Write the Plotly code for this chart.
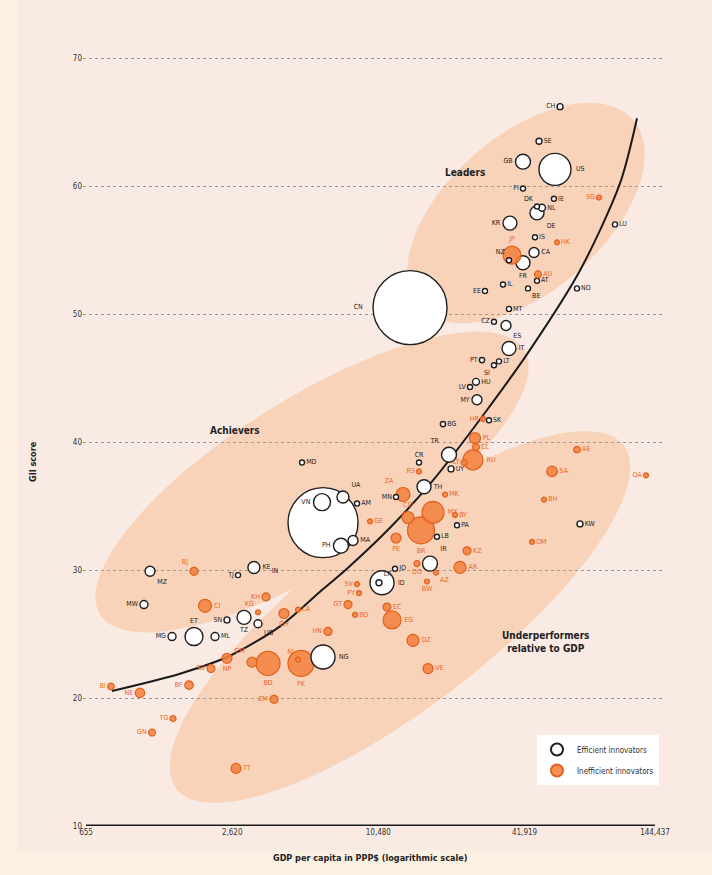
import math
import plotly.graph_objects as go

# ---------------- data ----------------
eff_codes = ["CH","SE","GB","US","FI","IE","DK","NL","DE","KR","LU","IS","NZ","FR","CA","AT","IL","BE","EE","NO",
             "MT","CZ","ES","CN","IT","PT","SI","LT","HU","LV","MY","BG","SK","MD","UA","VN","AM","IN","PH","MA",
             "KE","TJ","MZ","MW","SN","TZ","UG","ET","MG","ML","NG","KW","TH","TR","CR","UY","MN","LB","PA","IR",
             "ID","LK","JO"]
eff_gdp = [58700,48100,41300,55950,41300,55400,47170,49460,47170,36510,98830,46280,36170,41300,45850,47170,34170,43310,28810,68920,
           36170,31370,35150,14150,36170,28000,31370,32900,26450,24990,26700,19340,29920,5080,7490,6140,8560,6200,7350,8240,
           3220,2770,1202,1135,2494,2931,3346,1824,1481,2226,6200,70910,16160,20480,15410,20870,12390,18270,22090,17100,
           10850,10540,12270]
eff_gii = [66.2,63.5,61.9,61.3,59.8,59.0,58.4,58.3,57.9,57.1,57.0,56.0,54.2,54.0,54.8,52.6,52.3,52.0,51.8,52.0,
           50.4,49.4,49.1,50.5,47.3,46.4,46.0,46.3,44.7,44.3,43.3,41.4,41.7,38.4,35.7,35.3,35.2,33.7,31.9,32.3,
           30.2,29.6,29.9,27.3,26.1,26.3,25.8,24.8,24.8,24.8,23.2,33.6,36.5,39.0,38.4,37.9,35.7,32.6,33.5,30.5,
           29.0,29.0,30.1]
eff_pop = [9,9,56,256,4,4,6,12,49,49,2,2,4,49,25,4,4,6,1,4,
           1,4,25,1369,49,7,1,1,12,1,25,7,2,4,36,72,2,1225,56,25,
           36,4,25,16,9,49,16,81,16,16,144,9,49,56,2,9,2,6,2,56,
           144,9,4]

ineff_codes = ["SG","HK","JP","AU","HR","AE","SA","BH","OM","QA","RU","PL","CL","LT","ZA","MK","MX","CO","BR","BY",
               "PE","KZ","AR","DO","AZ","BW","PY","SV","EC","EG","DZ","VE","GT","HN","PK","BD","CM","NP","SD","BF",
               "BI","NE","ZM","TG","GN","TT","BJ","CI","KH","KG","GH","LA","GE","BO","NI","RS"]
ineff_gdp = [84900,57020,37210,47620,28270,68920,54380,50410,44990,132600,25710,26200,26450,23610,13240,19720,17590,13880,15700,21680,
             12390,24290,22730,15120,18100,16620,8720,8560,11370,11930,14550,16780,7860,6500,5030,3680,3160,2494,2143,1740,
             830,1093,3895,1495,1225,2716,1824,2025,3610,3346,4280,4890,9681,8400,4890,15410]
ineff_gii = [59.1,55.6,54.6,53.1,41.8,39.4,37.7,35.5,32.2,37.4,38.6,40.3,39.6,38.4,35.9,35.9,34.5,34.1,33.1,34.3,
             32.5,31.5,30.2,30.5,29.8,29.1,28.2,28.9,27.1,26.1,24.5,22.3,27.3,25.2,22.7,22.7,22.8,23.1,22.3,21.0,
             20.9,20.4,19.9,18.4,17.3,14.5,29.9,27.2,27.9,26.7,26.6,26.9,33.8,26.5,23.0,37.7]
ineff_pop = [4,6,81,12,2,11,28,2,2,2,100,30,12,9,49,2,121,36,182,4,
             25,16,36,9,6,2,4,2,16,81,36,25,16,16,169,144,25,25,16,18,
             11,22,16,9,12,25,16,42,16,4,25,4,4,2,6,2]

x_tick_values = [655, 2620, 10480, 41919, 144437]
x_tick_labels = ["655", "2,620", "10,480", "41,919", "144,437"]
y_tick_values = [10, 20, 30, 40, 50, 60, 70]

# trend curve
curve_gdp = [838, 1597, 2566, 4123, 6025, 7780, 11702, 17590, 29360, 44138, 70913, 103622, 121800]
curve_gii = [20.55, 21.9, 23.3, 25.6, 28.3, 30.1, 33.3, 37.0, 42.5, 47.2, 53.4, 60.2, 65.3]

# label placement (style)
eff_pos = ["middle left","middle right","middle left","middle right","middle left","middle right","top left","middle right",
           "bottom right","middle left","middle right","middle right","top left","bottom center","middle right","middle right",
           "middle right","bottom right","middle left","middle right","middle right","middle left","bottom right","middle left",
           "middle right","middle left","bottom left","middle right","middle right","middle left","middle left","middle right",
           "middle right","middle right","top right","middle left","middle right","bottom left","middle left","middle right",
           "middle right","middle left","bottom right","middle left","middle left","bottom center","bottom right","top center",
           "middle left","middle right","middle right","middle right","middle right","top left","top center","middle right",
           "middle left","middle right","middle right","top right","middle right","top right","middle right"]
ineff_pos = ["middle left","middle right","top center","middle right","middle left","middle right","middle right","middle right",
             "middle right","middle left","middle right","middle right","middle right","middle left","top left","middle right",
             "middle right","top center","bottom center","middle right","bottom center","middle right","middle right","bottom center",
             "bottom right","bottom center","middle left","middle left","middle right","middle right","middle right","middle right",
             "middle left","middle left","bottom center","bottom center","top left","bottom center","middle left","middle left",
             "middle left","middle left","middle left","middle left","middle left","middle right","top left","middle right",
             "middle left","top left","bottom center","middle right","middle right","middle right","top left","middle left"]

# ---------------- layout helpers (pixel geometry of the page) ----------------
W, H = 712, 875
L, R, T, B = 83, 662, 20, 826
PXLOG = 242.8          # pixels per decade on the x axis
xr = [math.log10(655) - 3 / PXLOG, math.log10(144437) + 7 / PXLOG]
yr = [10, 10 + (B - T) / 12.8]


def pp(x, y):
    return (x - L) / (R - L), (B - y) / (B - T)


def ellipse_path(cx, cy, a, b, ang, n=90):
    t = math.radians(ang)
    pts = []
    for i in range(n):
        p = 2 * math.pi * i / n
        ex, ey = a * math.cos(p), b * math.sin(p)
        x = cx + ex * math.cos(t) - ey * math.sin(t)
        y = cy - (ex * math.sin(t) + ey * math.cos(t))
        px, py = pp(x, y)
        pts.append(f"{px:.4f},{py:.4f}")
    return "M" + " L".join(pts) + " Z"


FONT = "Liberation Sans Narrow, DejaVu Sans Condensed, Arial Narrow, sans-serif"
ORANGE_TXT = "#EC6424"
ELL = "#F8D3BA"
BG = "#F9EBE4"
STRIP = "#FBF1E3"

STYLE = {
    "eff": dict(name="Efficient innovators", txt="#222222", fill="white", edge="#1e1e1e", lw=1.4, rank=1),
    "ineff": dict(name="Inefficient innovators", txt=ORANGE_TXT, fill="rgba(244,130,64,0.88)", edge="#E2601C", lw=1.2, rank=2),
}
SERIES = {
    "eff": (eff_codes, eff_gdp, eff_gii, eff_pop, eff_pos),
    "ineff": (ineff_codes, ineff_gdp, ineff_gii, ineff_pop, ineff_pos),
}

fig = go.Figure()

# trend curve
fig.add_trace(go.Scatter(x=curve_gdp, y=curve_gii, mode="lines",
                         line=dict(color="#1a1a1a", width=2, shape="spline", smoothing=0.8),
                         hoverinfo="skip", showlegend=False))

# x axis bar
fig.add_trace(go.Scatter(x=[x_tick_values[0], x_tick_values[-1]], y=[10, 10], mode="lines",
                         line=dict(color="#1a1a1a", width=3), hoverinfo="skip", showlegend=False))

# bubbles drawn in size tiers (large first) so that small bubbles stay visible on top
tiers = [(150, 1e9), (40, 150), (0, 40)]
for ti, (lo, hi) in enumerate(tiers):
    for key in ("eff", "ineff"):
        codes, gdp, gii, pop, pos = SERIES[key]
        st = STYLE[key]
        idx = sorted([i for i in range(len(codes)) if lo <= pop[i] < hi], key=lambda i: -pop[i])
        fig.add_trace(go.Scatter(
            x=[gdp[i] for i in idx], y=[gii[i] for i in idx], mode="markers+text",
            text=[codes[i] for i in idx], textposition=[pos[i] for i in idx],
            textfont=dict(family=FONT, size=7, color=st["txt"]),
            marker=dict(size=[2 * math.sqrt(pop[i]) for i in idx], sizemode="diameter", sizemin=2.5, opacity=1,
                        color=st["fill"], line=dict(color=st["edge"], width=st["lw"])),
            name=st["name"], legendgroup=key, showlegend=(ti == len(tiers) - 1), legendrank=st["rank"]))

x_strip = pp(18, 0)[0]
y_strip = pp(0, 850)[1]
shapes = [
    dict(type="rect", xref="paper", yref="paper", x0=-1, x1=x_strip, y0=-1, y1=2, layer="below",
         fillcolor=STRIP, line=dict(width=0)),
    dict(type="rect", xref="paper", yref="paper", x0=-1, x1=2, y0=-1, y1=y_strip, layer="below",
         fillcolor=STRIP, line=dict(width=0)),
    dict(type="path", xref="paper", yref="paper", path=ellipse_path(526, 213, 142, 78, 41), layer="between",
         fillcolor=ELL, line=dict(width=0)),
    dict(type="path", xref="paper", yref="paper", path=ellipse_path(312, 482, 250, 84, 32), layer="between",
         fillcolor=ELL, line=dict(width=0)),
    dict(type="path", xref="paper", yref="paper", path=ellipse_path(400, 617, 282, 90, 37.5), layer="between",
         fillcolor=ELL, line=dict(width=0)),
]

ann = []
def add_text(x, y, text, size, bold=True, angle=0, color="#222222"):
    px, py = pp(x, y)
    ann.append(dict(x=px, y=py, xref="paper", yref="paper", text=f"<b>{text}</b>" if bold else text,
                    showarrow=False, textangle=angle, font=dict(family=FONT, size=size, color=color),
                    xanchor="center", yanchor="middle"))

add_text(465, 172, "Leaders", 10)
add_text(235, 430, "Achievers", 10)
add_text(545, 642, "Underperformers<br>relative to GDP", 10)
add_text(370, 858, "GDP per capita in PPP$ (logarithmic scale)", 9)
add_text(33, 462, "GII score", 9, angle=-90)

fig.update_layout(
    width=W, height=H,
    margin=dict(l=L, r=W - R, t=T, b=H - B),
    paper_bgcolor=BG, plot_bgcolor=BG,
    font=dict(family=FONT, size=8, color="#333333"),
    shapes=shapes, annotations=ann,
    legend=dict(x=pp(537, 735)[0], y=pp(537, 735)[1], xanchor="left", yanchor="top",
                bgcolor="white", itemsizing="constant", font=dict(family=FONT, size=8, color="#333333"),
                borderwidth=0, tracegroupgap=2),
)
fig.update_xaxes(type="log", range=xr, tickvals=x_tick_values, ticktext=x_tick_labels, showgrid=False,
                 zeroline=False, showline=False, ticks="", tickfont=dict(family=FONT, size=8, color="#333333"))
fig.update_yaxes(range=yr, tickvals=y_tick_values, showgrid=True, gridcolor="#9a9a9a", griddash="dot", gridwidth=1,
                 zeroline=False, showline=False, ticks="", tickfont=dict(family=FONT, size=8, color="#333333"))

fig.write_html("out.html")
